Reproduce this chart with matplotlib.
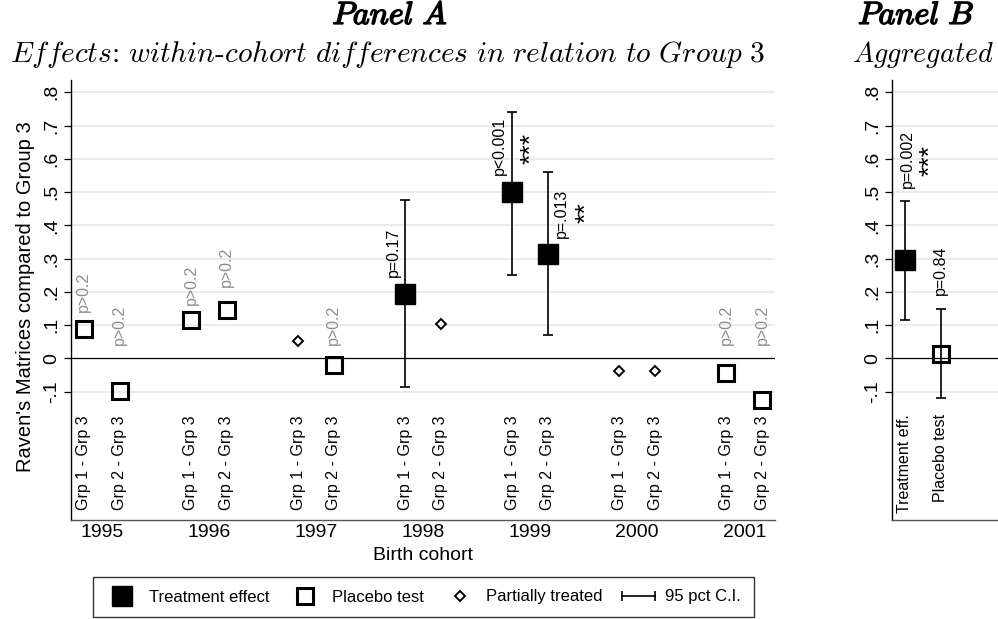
import numpy as np
import matplotlib
matplotlib.use('Agg')
import matplotlib.pyplot as plt
import matplotlib.patheffects as pe
from matplotlib.lines import Line2D
from matplotlib.legend_handler import HandlerLine2D

plt.rcParams['font.family'] = ['Liberation Sans', 'DejaVu Sans']
plt.rcParams['mathtext.fontset'] = 'cm'

# Panel A data, one entry per (cohort, comparison): 1995 G1, 1995 G2, 1996 G1, ...
years = [1995, 1996, 1997, 1998, 1999, 2000, 2001]
comparisons = ['Grp 1 - Grp 3', 'Grp 2 - Grp 3']
estimates = [0.088, -0.098, 0.115, 0.146, 0.052, -0.020, 0.195, 0.103,
             0.499, 0.314, -0.037, -0.037, -0.045, -0.124]
kinds = ['placebo', 'placebo', 'placebo', 'placebo', 'partial', 'placebo',
         'treat', 'partial', 'treat', 'treat', 'partial', 'partial',
         'placebo', 'placebo']
ci_low = [None, None, None, None, None, None, -0.086, None,
          0.251, 0.070, None, None, None, None]
ci_high = [None, None, None, None, None, None, 0.475, None,
           0.741, 0.559, None, None, None, None]
pvals = ['p>0.2', 'p>0.2', 'p>0.2', 'p>0.2', '', 'p>0.2', 'p=0.17', '',
         'p<0.001', 'p=.013', '', '', 'p>0.2', 'p>0.2']
stars = ['', '', '', '', '', '', '', '', '***', '**', '', '', '', '']

# where the p-value labels sit (bottom of text, data units) and sideways shift
pval_y = [0.139, 0.040, 0.160, 0.214, 0, 0.040, 0.246, 0,
          0.552, 0.362, 0, 0, 0.040, 0.040]
pval_dx = [0, 0, 0, 0, 0, 0, -0.34, 0, -0.35, 0.38, 0, 0, 0, 0]
star_dx = [0, 0, 0, 0, 0, 0, 0, 0, 0.54, 1.08, 0, 0, 0, 0]
star_y = [0, 0, 0, 0, 0, 0, 0, 0, 0.632, 0.437, 0, 0, 0, 0]

# Panel B data
agg_names = ['Treatment eff.', 'Placebo test']
agg_kinds = ['treat', 'placebo']
agg_est = [0.297, 0.012]
agg_low = [0.115, -0.119]
agg_high = [0.474, 0.148]
agg_p = ['p=0.002', 'p=0.84']
agg_p_y = [0.512, 0.190]
agg_p_dx = [0.06, 0]
agg_stars = ['***', '']
agg_star_dx = [0.72, 0]
agg_star_y = [0.596, 0]

ytick_vals = [-0.1, 0, 0.1, 0.2, 0.3, 0.4, 0.5, 0.6, 0.7, 0.8]
ytick_text = ['-.1', '0', '.1', '.2', '.3', '.4', '.5', '.6', '.7', '.8']

styles = {
    'treat': dict(marker='s', ms=14, mfc='black', mec='black', mew=1),
    'placebo': dict(marker='s', ms=12, mfc='none', mec='black', mew=2.2),
    'partial': dict(marker='D', ms=5.5, mfc='none', mec='black', mew=1.4),
}
gray_txt = '#8c8c8c'
ylim = (-0.486, 0.837)

W, H = 998, 619
fig = plt.figure(figsize=(W / 100, H / 100), dpi=100)
axA = fig.add_axes([71 / W, 1 - 520 / H, 704 / W, 440 / H])
axB = fig.add_axes([892 / W, 1 - 520 / H, 130 / W, 440 / H])


def style_axis(ax):
    ax.set_ylim(ylim)
    for t in ytick_vals:
        if t != 0:
            ax.axhline(t, color='#e6e6e6', lw=1.1, zorder=0)
    ax.axhline(0, color='black', lw=0.9, zorder=1)
    ax.set_yticks(ytick_vals)
    ax.set_yticklabels(ytick_text, fontsize=14, rotation=90, va='center')
    ax.tick_params(axis='y', length=5, width=0.9, pad=3)
    ax.spines['top'].set_visible(False)
    ax.spines['right'].set_visible(False)
    ax.spines['left'].set_linewidth(1.0)
    ax.spines['bottom'].set_color('#555555')
    ax.spines['bottom'].set_linewidth(1.0)


def draw_point(ax, x, y, kind, lo, hi):
    if lo is not None:
        ax.errorbar([x], [y], yerr=[[y - lo], [hi - y]], fmt='none',
                    ecolor='black', elinewidth=1.2, capsize=3.3,
                    capthick=1.2, zorder=2)
    ax.plot([x], [y], ls='', zorder=3, **styles[kind])


# ---- Panel A ----
style_axis(axA)
n = len(estimates)
xpos = np.arange(n) // 2 * 3 + 1 + np.arange(n) % 2
for i in range(n):
    draw_point(axA, xpos[i], estimates[i], kinds[i], ci_low[i], ci_high[i])
    axA.text(xpos[i], -0.172, comparisons[i % 2], rotation=90, ha='center',
             va='top', fontsize=11.5)
    if pvals[i]:
        col = gray_txt if kinds[i] == 'placebo' else 'black'
        axA.text(xpos[i] + pval_dx[i], pval_y[i], pvals[i], rotation=90,
                 ha='center', va='bottom', fontsize=11.5, color=col)
    if stars[i]:
        axA.text(xpos[i] + star_dx[i], star_y[i], stars[i], rotation=90,
                 ha='center', va='center', fontsize=19)

axA.set_xlim(1 - 0.36, xpos[-1] + 0.36)
axA.set_xticks(np.arange(len(years)) * 3 + 1.5)
axA.set_xticklabels([str(y) for y in years], fontsize=14)
axA.tick_params(axis='x', length=0, pad=3)
axA.set_xlabel('Birth cohort', fontsize=14, labelpad=4)

# ---- Panel B ----
style_axis(axB)
xb = np.arange(len(agg_est)) + 1
for i in range(len(agg_est)):
    draw_point(axB, xb[i], agg_est[i], agg_kinds[i], agg_low[i], agg_high[i])
    axB.text(xb[i], -0.168, agg_names[i], rotation=90, ha='center',
             va='top', fontsize=11.5)
    axB.text(xb[i] + agg_p_dx[i], agg_p_y[i], agg_p[i], rotation=90,
             ha='center', va='bottom', fontsize=11.5)
    if agg_stars[i]:
        axB.text(xb[i] + agg_star_dx[i], agg_star_y[i], agg_stars[i],
                 rotation=90, ha='center', va='center', fontsize=19)
axB.set_xlim(1 - 0.36, 1 - 0.36 + 130 / 35.7)
axB.set_xticks([])

# ---- titles ----
bold = [pe.withStroke(linewidth=1.1, foreground='black')]
fig.text(390 / W, 1 - 24 / H, r'$\mathit{Panel\ A}$', fontsize=23,
         ha='center', va='baseline', path_effects=bold)
fig.text(388 / W, 1 - 62 / H,
         r'$\mathit{Effects}\text{:}\ \mathit{within\text{-}cohort\ differences\ in\ relation\ to\ Group\ 3}$',
         fontsize=21.2, ha='center', va='baseline')
fig.text(858 / W, 1 - 24 / H, r'$\mathit{Panel\ B}$', fontsize=23,
         ha='left', va='baseline', path_effects=bold)
fig.text(852 / W, 1 - 62 / H, r'$\mathit{Aggregated}$', fontsize=20.3,
         ha='left', va='baseline')

# y axis title
fig.text(26 / W, 1 - 297 / H, "Raven's Matrices compared to Group 3",
         rotation=90, ha='center', va='center', fontsize=14.5)

# ---- legend ----
h_treat = Line2D([], [], ls='', **styles['treat'])
h_plac = Line2D([], [], ls='', **styles['placebo'])
h_part = Line2D([], [], ls='', **styles['partial'])
h_ci = Line2D([], [], color='black', lw=1.2, marker='|', ms=7, mew=1.2)
leg = fig.legend([h_treat, h_plac, h_part, h_ci],
                 ['Treatment effect', 'Placebo test', 'Partially treated',
                  '95 pct C.I.'],
                 loc='center', bbox_to_anchor=(423.5 / W, 1 - 597 / H),
                 ncol=4, fontsize=12, frameon=True, fancybox=False,
                 edgecolor='black', handlelength=2.0, handletextpad=0.6,
                 columnspacing=1.15, borderpad=0.75,
                 handler_map={h_ci: HandlerLine2D(numpoints=2, marker_pad=0)})
leg.get_frame().set_linewidth(1.0)

fig.savefig('out.png', dpi=100)
